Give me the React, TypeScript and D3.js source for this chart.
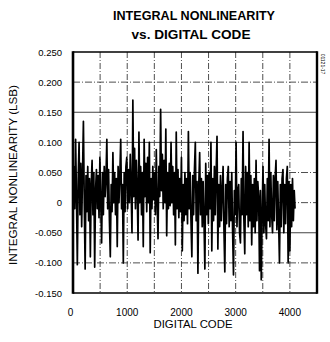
import React from "react";
import * as d3 from "d3";

// Sampling step of the digital code axis (one INL reading every 16 codes)
const codeStep = 16;
const lastCode = 4095;

// INL readings (LSB)
const inlValues: number[] = [
  0.02, 0.06, -0.01, 0.105, 0.01, -0.103, 0.04, 0.1, -0.02, 0.065, -0.04, 0.05, 0.135, 0.0, -0.11, 0.045,
  -0.015, 0.06, -0.03, 0.04, -0.09, 0.03, 0.07, -0.02, 0.05, -0.107, 0.02, 0.055, -0.01, 0.045, -0.025, 0.075,
  0.0, -0.067, 0.05, -0.02, 0.06, 0.01, 0.04, 0.105, -0.01, 0.055, -0.03, -0.09, 0.03, -0.015, 0.083, 0.0,
  0.05, -0.02, 0.04, -0.073, 0.06, 0.0, 0.045, 0.105, -0.01, 0.03, -0.1, 0.05, -0.015, 0.06, 0.075, -0.01,
  0.055, 0.0, 0.08, 0.02, -0.05, 0.17, 0.01, 0.09, -0.01, 0.07, 0.02, -0.062, 0.117, 0.0, 0.06, -0.02,
  0.05, -0.073, 0.105, 0.01, 0.065, -0.015, 0.075, 0.0, 0.1, -0.083, 0.04, -0.01, 0.06, 0.005, 0.05, -0.02,
  0.088, 0.0, -0.06, 0.06, 0.01, 0.155, 0.02, 0.08, -0.01, 0.07, 0.0, 0.122, -0.055, 0.05, -0.01, 0.065,
  -0.005, 0.1, 0.0, 0.06, -0.02, 0.05, -0.07, 0.117, -0.01, 0.055, -0.025, 0.04, -0.015, 0.075, -0.08, 0.03,
  -0.03, 0.05, -0.02, 0.04, -0.035, 0.118, -0.01, 0.05, -0.03, -0.09, 0.045, -0.02, 0.055, 0.1, -0.03, 0.035,
  -0.117, 0.03, 0.083, -0.02, 0.04, -0.04, 0.035, -0.03, -0.11, 0.065, -0.02, 0.045, -0.035, 0.05, -0.01, 0.1,
  -0.08, 0.04, -0.03, 0.06, -0.02, 0.05, 0.11, -0.077, 0.03, -0.04, 0.045, -0.03, 0.02, 0.06, -0.045, -0.115,
  0.03, -0.035, 0.04, 0.06, -0.04, 0.035, -0.03, 0.05, -0.05, -0.12, 0.02, -0.02, 0.1, -0.04, 0.02, 0.03,
  -0.05, -0.067, 0.04, -0.02, 0.118, -0.03, -0.085, 0.06, -0.02, 0.05, -0.04, 0.1, -0.03, 0.045, -0.07, 0.03,
  -0.04, 0.04, -0.05, 0.07, -0.03, 0.035, 0.01, -0.113, 0.02, -0.128, -0.02, 0.06, -0.05, 0.03, -0.035, -0.06,
  0.04, -0.03, 0.105, -0.04, 0.05, -0.02, -0.05, 0.045, -0.03, 0.04, 0.07, -0.045, 0.035, -0.03, -0.1, 0.03,
  -0.04, 0.04, 0.055, -0.05, 0.03, -0.035, 0.04, 0.06, -0.1, 0.035, -0.08, 0.03, -0.04, 0.04, -0.03, 0.02,
  -0.01,
];

const yTicks = [0.25, 0.2, 0.15, 0.1, 0.05, 0, -0.05, -0.1, -0.15];
const yTickLabels = ["0.250", "0.200", "0.150", "0.100", "0.050", "0", "-0.050", "-0.100", "-0.150"];
const xTicks = [0, 1000, 2000, 3000, 4000];
const xTickLabels = ["0", "1000", "2000", "3000", "4000"];
const xGrid = [500, 1000, 1500, 2000, 2500, 3000, 3500, 4000];
const yGrid = [0.2, 0.15, 0.1, 0.05, 0, -0.05, -0.1];
const solidYGrid = [0.15, 0.1, -0.05];

const W = 330;
const H = 342;
const FONT = "'Liberation Sans', Arial, Helvetica, sans-serif";

export default function App() {
  const x = d3.scaleLinear().domain([0, 4500]).range([73, 317]);
  const y = d3.scaleLinear().domain([-0.15, 0.25]).range([293, 52]);

  const line = d3
    .line<number>()
    .x((_, i) => x(Math.min(i * codeStep, lastCode)))
    .y((d) => y(d))
    .curve(d3.curveLinear);

  const [x0, x1] = x.range();
  const [yb, yt] = y.range();

  return (
    <svg
      width={W}
      height={H}
      viewBox={`0 0 ${W} ${H}`}
      style={{ position: "absolute", left: 0, top: 0, background: "#fff" }}
    >
      <rect x={0} y={0} width={W} height={H} fill="#fff" />
      {/* Title */}
      <text x={194} y={20} textAnchor="middle" fontFamily={FONT} fontWeight="bold" fontSize={12.5}
        textLength={162} lengthAdjust="spacingAndGlyphs">INTEGRAL NONLINEARITY</text>
      <text x={191} y={38.5} textAnchor="middle" fontFamily={FONT} fontWeight="bold" fontSize={12.5}
        textLength={119} lengthAdjust="spacingAndGlyphs">vs. DIGITAL CODE</text>

      {/* Grid */}
      {xGrid.map((v) => (
        <line key={"xg" + v} x1={x(v)} x2={x(v)} y1={yt} y2={yb} stroke="#222" strokeWidth={0.8}
          strokeDasharray="6,2,1,2" />
      ))}
      {yGrid.map((v) => (
        <line key={"yg" + v} x1={x0} x2={x1} y1={y(v)} y2={y(v)}
          stroke={solidYGrid.includes(v) ? "#444" : "#222"}
          strokeWidth={solidYGrid.includes(v) ? 1 : 0.8}
          strokeDasharray={solidYGrid.includes(v) ? undefined : "7,2,1,2"} />
      ))}

      {/* Data */}
      <path d={line(inlValues) ?? ""} fill="none" stroke="#000" strokeWidth={1.7} strokeLinejoin="round" />

      {/* Frame */}
      <line x1={x0} x2={x1} y1={yt} y2={yt} stroke="#000" strokeWidth={1.6} />
      <line x1={x0} x2={x1} y1={yb} y2={yb} stroke="#000" strokeWidth={1.6} />
      <line x1={x0} x2={x0} y1={yt - 0.8} y2={yb + 0.8} stroke="#000" strokeWidth={2.6} />
      <line x1={x1} x2={x1} y1={yt - 0.8} y2={yb + 0.8} stroke="#000" strokeWidth={2.4} />

      {/* Y ticks labels */}
      {yTicks.map((v, i) => (
        <text key={"yt" + v} x={62} y={y(v) + 3.5} textAnchor="end" fontFamily={FONT} fontSize={9.5}>
          {yTickLabels[i]}
        </text>
      ))}
      {/* X tick labels */}
      {xTicks.map((v, i) => (
        <text key={"xt" + v} x={i === 0 ? x(v) - 2.5 : x(v)} y={316} textAnchor="middle" fontFamily={FONT} fontSize={10}>
          {xTickLabels[i]}
        </text>
      ))}

      {/* Axis titles */}
      <text x={193} y={328} textAnchor="middle" fontFamily={FONT} fontSize={10} textLength={79}
        lengthAdjust="spacingAndGlyphs">DIGITAL CODE</text>
      <text transform="translate(17,175) rotate(-90)" textAnchor="middle" fontFamily={FONT} fontSize={10.5}
        textLength={180} lengthAdjust="spacingAndGlyphs">INTEGRAL NONLINEARITY (LSB)</text>

      {/* Figure id */}
      <text transform="translate(321,64) rotate(90)" textAnchor="middle" fontFamily={FONT} fontSize={5}>
        01121-17
      </text>
    </svg>
  );
}
